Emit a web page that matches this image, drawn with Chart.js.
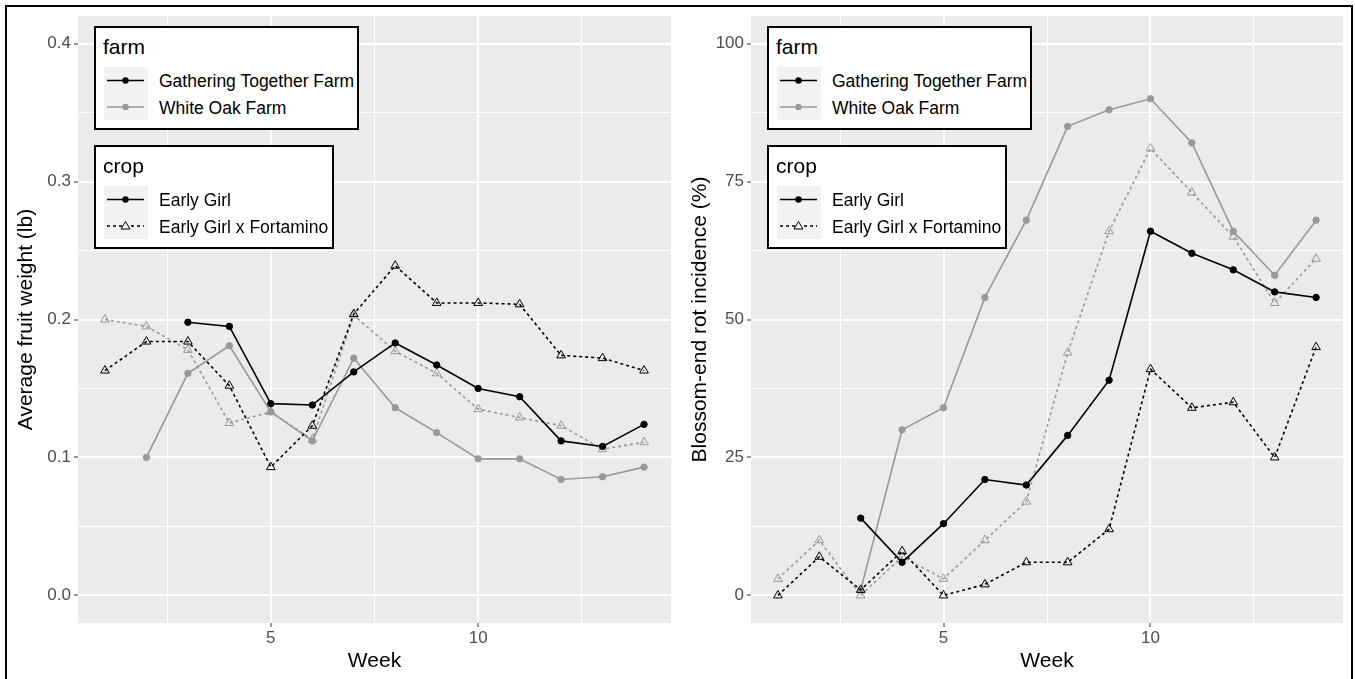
<!DOCTYPE html>
<html lang="en">
<head>
<meta charset="UTF-8">
<title>Tomato fruit weight and blossom-end rot by week</title>
<script src="https://cdn.jsdelivr.net/npm/chart.js@4.4.1/dist/chart.umd.min.js"></script>
<style>
  html, body { margin: 0; padding: 0; background: #fff; }
  body { width: 1355px; height: 679px; position: relative; overflow: hidden;
         font-family: "Liberation Sans", Arial, sans-serif; }
  .frame { position: absolute; left: 5px; top: 5px; width: 1348px; height: 700px;
           border: 2px solid #000; box-sizing: border-box; }
  .panel { position: absolute; top: 0; height: 679px; }
  .lg { position: absolute; border: 2px solid #000; background: #fff; box-sizing: border-box; }
  .lg .ttl { position: absolute; left: 7px; top: 8px; font-size: 21px; line-height: 22px; color: #000; }
  .lg svg { position: absolute; left: 8px; top: 39px; }
  .lg .lab { position: absolute; left: 63px; font-size: 17.5px; line-height: 20px; white-space: nowrap; color: #000; }
</style>
</head>
<body>
<div class="frame"></div>
<div class="panel" style="left:0;width:677px;"><canvas id="weightChart"></canvas></div>
<div class="panel" style="left:677px;width:678px;"><canvas id="berChart"></canvas></div>
<div id="legends"></div>

<script>
const FONT = '"Liberation Sans", Arial, sans-serif';
const BLACK = '#000000';
const GREY = '#999999';

const weeks = [1, 2, 3, 4, 5, 6, 7, 8, 9, 10, 11, 12, 13, 14];
const farms = ['Gathering Together Farm', 'White Oak Farm'];
const crops = ['Early Girl', 'Early Girl x Fortamino'];

// average fruit weight (lb)
const wtGtfEarlyGirl = [null, null, 0.198, 0.195, 0.139, 0.138, 0.162, 0.183, 0.167, 0.150, 0.144, 0.112, 0.108, 0.124];
const wtGtfFortamino = [0.163, 0.184, 0.184, 0.152, 0.093, 0.123, 0.204, 0.239, 0.212, 0.212, 0.211, 0.174, 0.172, 0.163];
const wtWofEarlyGirl = [null, 0.100, 0.161, 0.181, 0.133, 0.112, 0.172, 0.136, 0.118, 0.099, 0.099, 0.084, 0.086, 0.093];
const wtWofFortamino = [0.200, 0.195, 0.178, 0.125, 0.133, 0.113, 0.203, 0.177, 0.161, 0.135, 0.129, 0.123, 0.106, 0.111];

// blossom-end rot incidence (%)
const berGtfEarlyGirl = [null, null, 14, 6, 13, 21, 20, 29, 39, 66, 62, 59, 55, 54];
const berGtfFortamino = [0, 7, 1, 8, 0, 2, 6, 6, 12, 41, 34, 35, 25, 45];
const berWofEarlyGirl = [null, null, 1, 30, 34, 54, 68, 85, 88, 90, 82, 66, 58, 68];
const berWofFortamino = [3, 10, 0, 7, 3, 10, 17, 44, 66, 81, 73, 65, 53, 61];

// axes
const weekTicks = [5, 10];
const weekMinor = [2.5, 7.5, 12.5];
const wtTicks = [0, 0.1, 0.2, 0.3, 0.4];
const wtMinor = [0.05, 0.15, 0.25, 0.35];
const berTicks = [0, 25, 50, 75, 100];
const berMinor = [12.5, 37.5, 62.5, 87.5];

function series(vals, color, fortamino) {
    return {
        data: weeks.map((w, i) => ({ x: w, y: vals[i] })),
        borderColor: color,
        borderWidth: 1.6,
        borderDash: fortamino ? [3, 3] : [],
        pointStyle: fortamino ? 'triangle' : 'circle',
        pointRadius: fortamino ? 5 : 3.2,
        pointBorderWidth: 1,
        pointBorderColor: color,
        pointBackgroundColor: fortamino ? 'rgba(0,0,0,0)' : color,
        tension: 0,
        spanGaps: false
    };
}

// grey panel behind the grid
const panelBg = {
    id: 'panelBg',
    beforeDraw(chart) {
        const a = chart.chartArea;
        chart.ctx.save();
        chart.ctx.fillStyle = '#EBEBEB';
        chart.ctx.fillRect(a.left, a.top, a.right - a.left, a.bottom - a.top);
        chart.ctx.restore();
    }
};

function withMinor(major, minor) {
    return scale => {
        scale.ticks = major.concat(minor).sort((a, b) => a - b).map(v => ({ value: v }));
    };
}

function gridOpts(major) {
    return {
        color: '#FFFFFF',
        lineWidth: ctx => major.includes(ctx.tick.value) ? 2 : 1,
        tickLength: 4,
        tickWidth: 1,
        tickColor: ctx => major.includes(ctx.tick.value) ? '#333333' : 'rgba(0,0,0,0)'
    };
}

function makeChart(id, datasets, cfg) {
    return new Chart(document.getElementById(id), {
        type: 'line',
        data: { datasets: datasets },
        options: {
            responsive: true,
            maintainAspectRatio: false,
            animation: false,
            layout: { padding: { left: 0, top: 16, right: cfg.padRight, bottom: 0 } },
            plugins: { legend: { display: false }, tooltip: { enabled: false } },
            scales: {
                x: {
                    type: 'linear', min: 0.35, max: 14.65,
                    afterFit: s => { s.height = 56; },
                    afterBuildTicks: withMinor(weekTicks, weekMinor),
                    ticks: {
                        autoSkip: false, maxRotation: 0, padding: 1,
                        color: '#4D4D4D', font: { size: 17, family: FONT },
                        callback: v => weekTicks.includes(v) ? String(v) : ''
                    },
                    grid: gridOpts(weekTicks),
                    border: { display: false },
                    title: { display: true, text: 'Week', color: '#000',
                             font: { size: 21, family: FONT, lineHeight: 1 },
                             padding: { top: 0, bottom: 7 } }
                },
                y: {
                    type: 'linear', min: cfg.yMin, max: cfg.yMax,
                    afterFit: s => { s.width = cfg.yWidth; },
                    afterBuildTicks: withMinor(cfg.yTicks, cfg.yMinor),
                    ticks: {
                        autoSkip: false, padding: 3,
                        color: '#4D4D4D', font: { size: 17, family: FONT },
                        callback: v => cfg.yTicks.includes(v) ? cfg.fmt(v) : ''
                    },
                    grid: gridOpts(cfg.yTicks),
                    border: { display: false },
                    title: { display: true, text: cfg.yTitle, color: '#000',
                             font: { size: 21, family: FONT, lineHeight: 1 },
                             padding: { top: cfg.titlePad, bottom: 0 } }
                }
            }
        },
        plugins: [panelBg]
    });
}

makeChart('weightChart', [
    series(wtGtfEarlyGirl, BLACK, false),
    series(wtGtfFortamino, BLACK, true),
    series(wtWofEarlyGirl, GREY, false),
    series(wtWofFortamino, GREY, true)
], {
    yMin: -0.02, yMax: 0.42, yTicks: wtTicks, yMinor: wtMinor, yWidth: 78, padRight: 5,
    fmt: v => v.toFixed(1), yTitle: 'Average fruit weight (lb)', titlePad: 16
});

makeChart('berChart', [
    series(berGtfEarlyGirl, BLACK, false),
    series(berGtfFortamino, BLACK, true),
    series(berWofEarlyGirl, GREY, false),
    series(berWofFortamino, GREY, true)
], {
    yMin: -5, yMax: 105, yTicks: berTicks, yMinor: berMinor, yWidth: 74, padRight: 12,
    fmt: v => String(v), yTitle: 'Blossom-end rot incidence (%)', titlePad: 13
});

// legends (farm = colour, crop = linetype/shape)
function keySvg(keys) {
    let s = '<svg width="44" height="53" xmlns="http://www.w3.org/2000/svg"><rect width="44" height="53" fill="#F2F2F2"/>';
    keys.forEach((k, i) => {
        const y = 13.5 + i * 26.5;
        s += '<line x1="3" x2="40" y1="' + y + '" y2="' + y + '" stroke="' + k.color + '" stroke-width="1.6"' +
             (k.dotted ? ' stroke-dasharray="3 3"' : '') + '/>';
        if (k.dotted) {
            s += '<polygon points="21.5,' + (y - 4.5) + ' 26,' + (y + 3) + ' 17,' + (y + 3) +
                 '" fill="#F2F2F2" stroke="' + k.color + '" stroke-width="1"/>';
        } else {
            s += '<circle cx="21.5" cy="' + y + '" r="3.2" fill="' + k.color + '"/>';
        }
    });
    return s + '</svg>';
}

function legendBox(left, top, width, title, labels, keys) {
    let h = '<div class="lg" style="left:' + left + 'px;top:' + top + 'px;width:' + width + 'px;height:104px;">';
    h += '<div class="ttl">' + title + '</div>' + keySvg(keys);
    labels.forEach((l, i) => {
        h += '<div class="lab" style="top:' + (43 + i * 26.5) + 'px;">' + l + '</div>';
    });
    return h + '</div>';
}

let html = '';
[94, 767].forEach(x => {
    html += legendBox(x, 26, 265, 'farm', farms, [{ color: BLACK }, { color: GREY }]);
    html += legendBox(x, 145, 240, 'crop', crops, [{ color: BLACK }, { color: BLACK, dotted: true }]);
});
document.getElementById('legends').innerHTML = html;
</script>
</body>
</html>
